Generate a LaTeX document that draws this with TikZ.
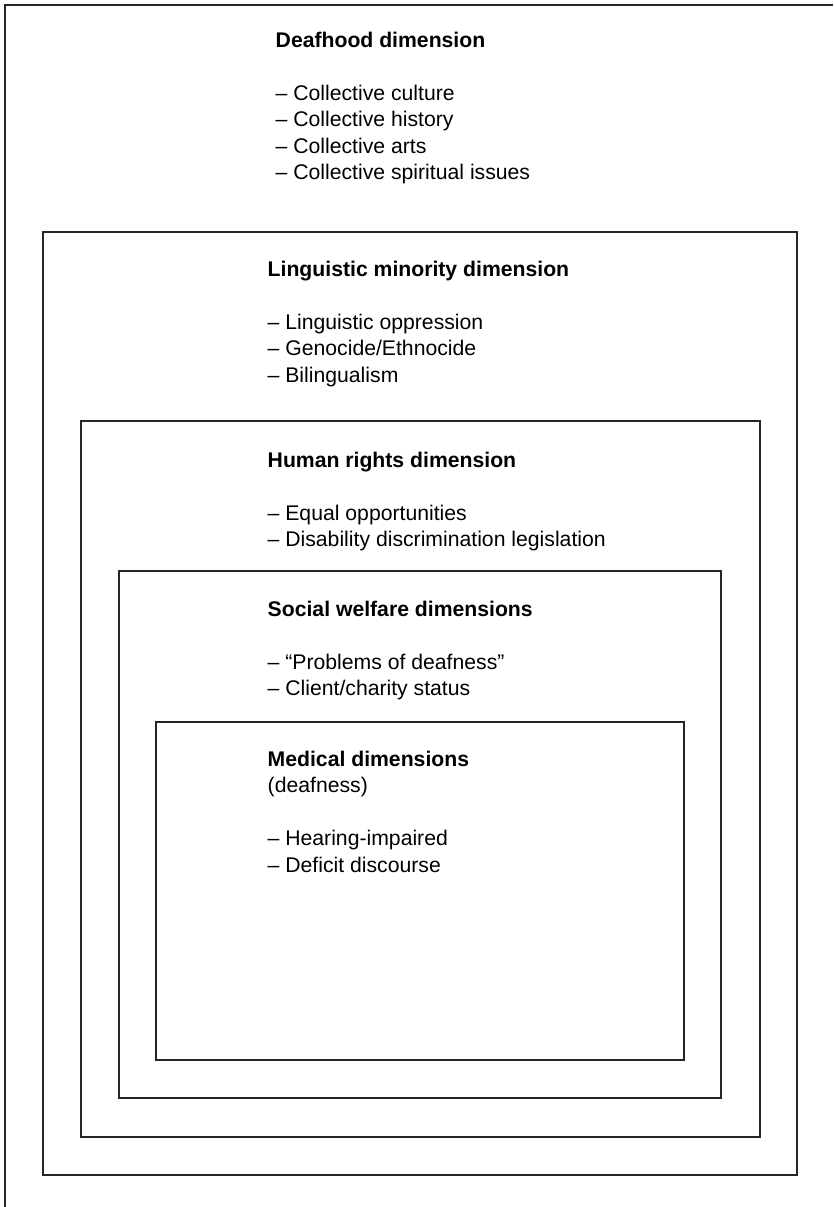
\documentclass[tikz,border=0pt]{standalone}
\usepackage{fontspec}
\setmainfont{Liberation Sans}
\usetikzlibrary{positioning}

\begin{document}
\begin{tikzpicture}[scale=1,
    dimbox/.style={draw=black!85,line width=0.45pt},
    dimtext/.style={anchor=north west,align=left,inner sep=0pt,
        font=\fontsize{6.03}{7.51}\selectfont}]

\useasboundingbox (0,0) rectangle (8.33,-12.07);

% === Nested dimension frames (outer to inner) ===
\draw[dimbox] (0.05,-12.07) -- (0.05,-0.05) -- (8.33,-0.05);
\draw[dimbox] (0.43,-2.32) rectangle (7.97,-11.75);
\draw[dimbox] (0.81,-4.21) rectangle (7.60,-11.37);
\draw[dimbox] (1.19,-5.71) rectangle (7.21,-10.98);
\draw[dimbox] (1.56,-7.22) rectangle (6.84,-10.60);

% === Labels ===
\node[dimtext] (deafhood) at (2.75,-0.315) {\textbf{Deafhood dimension}\\[7.51pt]
    – Collective culture\\
    – Collective history\\
    – Collective arts\\
    – Collective spiritual issues};

\node[dimtext] (linguistic) at (2.67,-2.605) {\textbf{Linguistic minority dimension}\\[7.51pt]
    – Linguistic oppression\\
    – Genocide/Ethnocide\\
    – Bilingualism};

\node[dimtext] (rights) at (2.67,-4.515) {\textbf{Human rights dimension}\\[7.51pt]
    – Equal opportunities\\
    – Disability discrimination legislation};

\node[dimtext] (welfare) at (2.67,-6.005) {\textbf{Social welfare dimensions}\\[7.51pt]
    – “Problems of deafness”\\
    – Client/charity status};

\node[dimtext] (medical) at (2.67,-7.505) {\textbf{Medical dimensions}\\
    (deafness)\\[7.51pt]
    – Hearing-impaired\\
    – Deficit discourse};

\end{tikzpicture}
\end{document}
